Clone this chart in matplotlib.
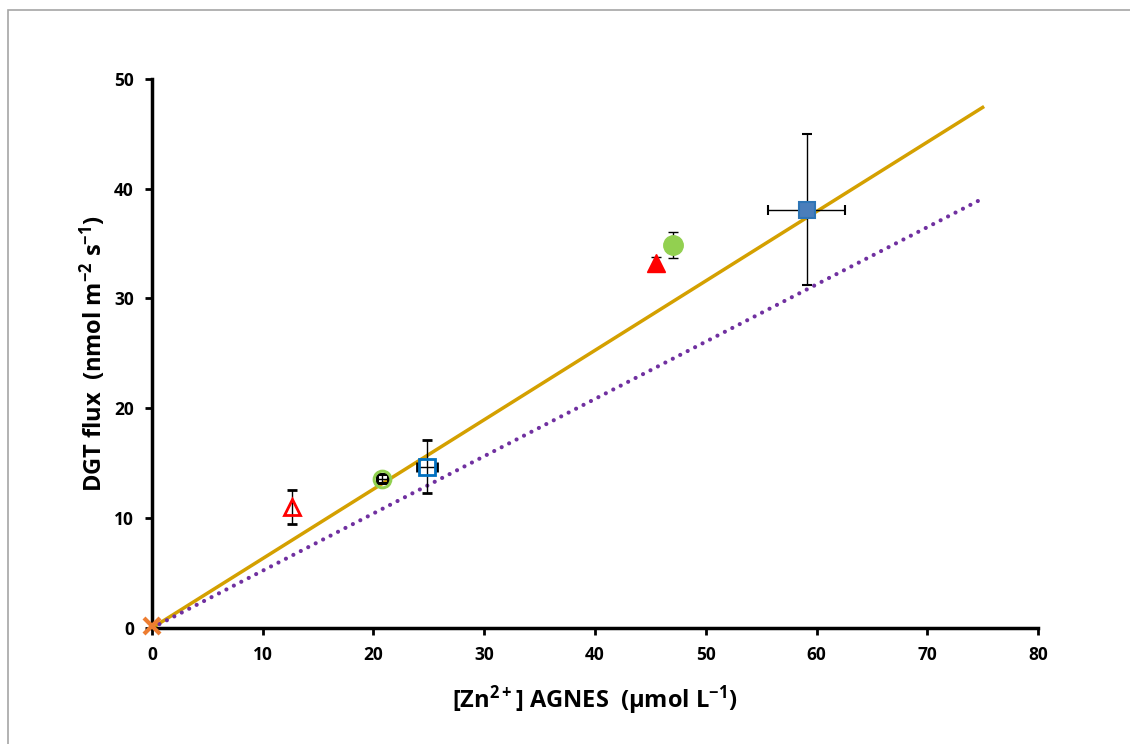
import numpy as np
import matplotlib.pyplot as plt
from matplotlib.patches import Rectangle

# ============================================================
# DATA
# ============================================================

# open markers
open_tri_x, open_tri_y, open_tri_yerr = [12.6], [11.0], [1.55]
open_circ_x, open_circ_y, open_circ_xerr, open_circ_yerr = [20.8], [13.6], [0.5], [0.4]
open_sq_x, open_sq_y, open_sq_xerr, open_sq_yerr = [24.8], [14.7], [0.9], [2.45]

# filled markers
fill_tri_x, fill_tri_y, fill_tri_yerr = [45.5], [33.2], [0.6]
fill_circ_x, fill_circ_y, fill_circ_yerr = [47.0], [34.9], [1.2]
fill_sq_x, fill_sq_y, fill_sq_xerr, fill_sq_yerr = [59.1], [38.1], [3.5], [6.9]

origin_x, origin_y = [0.0], [0.2]

# fitted lines
fit_x = [0, 75]
fit_solid_y = [0, 47.4]
fit_dotted_y = [0, 39.1]

xticks = [0, 10, 20, 30, 40, 50, 60, 70, 80]
yticks = [0, 10, 20, 30, 40, 50]

# ============================================================
# STYLE
# ============================================================

FONT = "Open Sans"
plt.rcParams["font.family"] = [FONT, "DejaVu Sans"]
plt.rcParams["font.weight"] = "bold"
plt.rcParams["mathtext.fontset"] = "custom"
plt.rcParams["mathtext.rm"] = FONT + ":bold"
plt.rcParams["mathtext.bf"] = FONT + ":bold"
plt.rcParams["mathtext.it"] = FONT + ":bold"

fig = plt.figure(figsize=(11.3, 7.44), dpi=100)
ax = fig.add_axes([0.1345, 0.156, 0.7841, 0.738])

# outer chart frame
fig.patches.append(Rectangle((8 / 1130, -0.1), 1.2, 1 - 10 / 744 + 0.1,
                             transform=fig.transFigure, fill=False,
                             edgecolor="#a6a6a6", linewidth=1.2))

# ============================================================
# PLOT
# ============================================================

ax.plot(fit_x, fit_solid_y, color="#d4a000", linewidth=2.5, zorder=2)
ax.plot(fit_x, fit_dotted_y, color="#7030a0", linewidth=3, linestyle=(0, (0.01, 2.0)),
        dash_capstyle="round", zorder=2)

eb = dict(ecolor="black", elinewidth=1.0, capsize=3.5, capthick=1.0, linestyle="none", zorder=3)

ax.errorbar(open_tri_x, open_tri_y, yerr=open_tri_yerr, marker="^", markersize=12,
            markerfacecolor="none", markeredgecolor="#ff0000", markeredgewidth=2, **eb)
ax.errorbar(open_circ_x, open_circ_y, xerr=open_circ_xerr, yerr=open_circ_yerr, marker="o",
            markersize=12, markerfacecolor="none", markeredgecolor="#92d050", markeredgewidth=2.2, **eb)
ax.errorbar(open_sq_x, open_sq_y, xerr=open_sq_xerr, yerr=open_sq_yerr, marker="s",
            markersize=11, markerfacecolor="none", markeredgecolor="#0070c0", markeredgewidth=2, **eb)

ax.errorbar(fill_tri_x, fill_tri_y, yerr=fill_tri_yerr, marker="^", markersize=13,
            markerfacecolor="#ff0000", markeredgecolor="#ff0000", **eb)
ax.errorbar(fill_circ_x, fill_circ_y, yerr=fill_circ_yerr, marker="o", markersize=14,
            markerfacecolor="#92d050", markeredgecolor="#92d050", **eb)
ax.errorbar(fill_sq_x, fill_sq_y, xerr=fill_sq_xerr, yerr=fill_sq_yerr, marker="s", markersize=12,
            markerfacecolor="#4a7ebb", markeredgecolor="#2e75b6", markeredgewidth=1.5, **eb)

ax.plot(origin_x, origin_y, marker="x", markersize=11, markeredgewidth=3,
        color="#ed7d31", linestyle="none", zorder=5, clip_on=False)

# ============================================================
# AXES
# ============================================================

ax.set_xlim(0, 80)
ax.set_ylim(0, 50)
ax.set_xticks(xticks)
ax.set_yticks(yticks)
ax.tick_params(direction="out", length=5, width=2, labelsize=12.5, pad=8)
for lbl in ax.get_xticklabels() + ax.get_yticklabels():
    lbl.set_fontweight("bold")

for side in ["top", "right"]:
    ax.spines[side].set_visible(False)
for side in ["left", "bottom"]:
    ax.spines[side].set_linewidth(2.5)

ax.set_xlabel(r"[Zn$^{2+}$] AGNES  (µmol L$^{-1}$)", fontsize=17, fontweight="bold", labelpad=14)
ax.set_ylabel(r"DGT flux  (nmol m$^{-2}$ s$^{-1}$)", fontsize=17, fontweight="bold", labelpad=4)

fig.savefig("out.png", dpi=100)
